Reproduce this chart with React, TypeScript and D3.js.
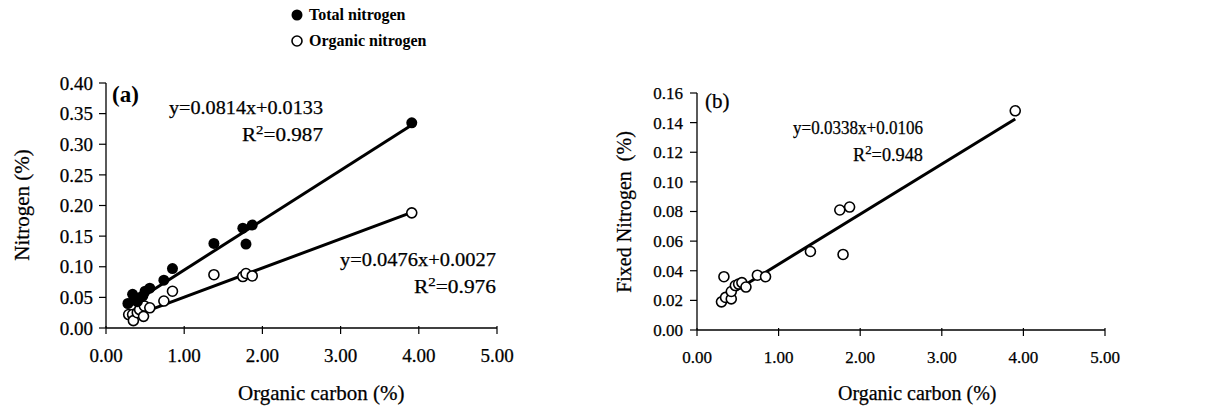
import React from "react";
import * as d3 from "d3";

// panel (a): organic carbon vs total / organic nitrogen (%)
const totalC = [0.28, 0.34, 0.36, 0.4, 0.44, 0.47, 0.5, 0.56, 0.74, 0.85, 1.38, 1.75, 1.79, 1.87, 3.91];
const totalN = [0.04, 0.055, 0.047, 0.043, 0.05, 0.052, 0.06, 0.065, 0.078, 0.097, 0.138, 0.163, 0.137, 0.168, 0.335];
const organicC = [0.29, 0.34, 0.35, 0.4, 0.43, 0.48, 0.49, 0.56, 0.74, 0.85, 1.38, 1.75, 1.79, 1.87, 3.91];
const organicN = [0.022, 0.022, 0.012, 0.025, 0.03, 0.019, 0.036, 0.033, 0.044, 0.06, 0.087, 0.084, 0.089, 0.085, 0.188];

// panel (b): organic carbon vs fixed nitrogen (%)
const fixedC = [0.3, 0.33, 0.35, 0.42, 0.42, 0.47, 0.51, 0.55, 0.6, 0.74, 0.84, 1.39, 1.75, 1.79, 1.87, 3.9];
const fixedN = [0.019, 0.036, 0.022, 0.021, 0.026, 0.03, 0.031, 0.032, 0.029, 0.037, 0.036, 0.053, 0.081, 0.051, 0.083, 0.148];

const xTicks = [0, 1, 2, 3, 4, 5];
const yTicksA = [0, 0.05, 0.1, 0.15, 0.2, 0.25, 0.3, 0.35, 0.4];
const yTicksB = [0, 0.02, 0.04, 0.06, 0.08, 0.1, 0.12, 0.14, 0.16];

const fitTotal = { m: 0.0814, b: 0.0133, eq: "y=0.0814x+0.0133", r2: "0.987" };
const fitOrganic = { m: 0.0476, b: 0.0027, eq: "y=0.0476x+0.0027", r2: "0.976" };
const fitFixed = { m: 0.0338, b: 0.0106, eq: "y=0.0338x+0.0106", r2: "0.948" };

const font = "'Liberation Serif', 'Times New Roman', serif";
const fmt = d3.format(".2f");

type Sc = d3.ScaleLinear<number, number>;

function Axes({ x, y, yTicks, fs, gap }: { x: Sc; y: Sc; yTicks: number[]; fs: number; gap: number }) {
  const [x0, x1] = x.range();
  const [y0, y1] = y.range();
  return (
    <g fontFamily={font} fontSize={fs} fill="#000" stroke="#000" strokeWidth={0.25}>
      <line x1={x0} x2={x0} y1={y0} y2={y1} stroke="#000" strokeWidth={1.3} />
      <line x1={x0} x2={x1} y1={y0} y2={y0} stroke="#000" strokeWidth={1.3} />
      {yTicks.map((t) => (
        <g key={"y" + t}>
          <line x1={x0 - 7} x2={x0} y1={y(t)} y2={y(t)} stroke="#000" strokeWidth={1.2} />
          <text x={x0 - gap} y={y(t)} dy="0.35em" textAnchor="end">
            {fmt(t)}
          </text>
        </g>
      ))}
      {xTicks.map((t) => (
        <g key={"x" + t}>
          <line x1={x(t)} x2={x(t)} y1={y0 - 2} y2={y0 + 6} stroke="#000" strokeWidth={1.2} />
          <text x={x(t)} y={y0 + 27} dy="0.35em" textAnchor="middle">
            {fmt(t)}
          </text>
        </g>
      ))}
    </g>
  );
}

function FitLine({ x, y, xs, fit }: { x: Sc; y: Sc; xs: number[]; fit: { m: number; b: number } }) {
  const [lo, hi] = d3.extent(xs) as [number, number];
  const line = d3
    .line<number>()
    .x((d) => x(d))
    .y((d) => y(fit.m * d + fit.b));
  return <path d={line([lo, hi]) || ""} stroke="#000" strokeWidth={3} fill="none" />;
}

function Equation({ x, y, eq, r2, w1, w2, fs }: { x: number; y: number; eq: string; r2: string; w1: number; w2: number; fs: number }) {
  return (
    <g fontFamily={font} fontSize={fs} textAnchor="end" stroke="#000" strokeWidth={0.25}>
      <text x={x} y={y} textLength={w1} lengthAdjust="spacingAndGlyphs">
        {eq}
      </text>
      <text x={x} y={y + 27} textLength={w2} lengthAdjust="spacingAndGlyphs">
        R<tspan dy={-7} fontSize={fs * 0.7}>2</tspan>
        <tspan dy={7}>={r2}</tspan>
      </text>
    </g>
  );
}

export default function App() {
  const xA = d3.scaleLinear().domain([0, 5]).range([106, 497]);
  const yA = d3.scaleLinear().domain([0, 0.4]).range([328, 83]);
  const xB = d3.scaleLinear().domain([0, 5]).range([697, 1105]);
  const yB = d3.scaleLinear().domain([0, 0.16]).range([330, 93]);

  return (
    <svg width={1217} height={408} style={{ position: "absolute", left: 0, top: 0, background: "#fff" }}>
      <rect width={1217} height={408} fill="#fff" />

      {/* legend */}
      <g fontFamily={font} fontSize={16} fontWeight="bold">
        <circle cx={297} cy={15} r={5.5} fill="#000" />
        <text x={309} y={20}>Total nitrogen</text>
        <circle cx={297} cy={41} r={5} fill="#fff" stroke="#000" strokeWidth={1.6} />
        <text x={309} y={46}>Organic nitrogen</text>
      </g>

      {/* panel (a) */}
      <Axes x={xA} y={yA} yTicks={yTicksA} fs={19} gap={13} />
      <FitLine x={xA} y={yA} xs={totalC} fit={fitTotal} />
      <FitLine x={xA} y={yA} xs={organicC} fit={fitOrganic} />
      {organicC.map((c, i) => (
        <circle key={"o" + i} cx={xA(c)} cy={yA(organicN[i])} r={5} fill="#fff" stroke="#000" strokeWidth={1.6} />
      ))}
      {totalC.map((c, i) => (
        <circle key={"t" + i} cx={xA(c)} cy={yA(totalN[i])} r={5.5} fill="#000" />
      ))}
      <text x={112} y={102} fontFamily={font} fontSize={23} fontWeight="bold">(a)</text>
      <Equation x={323} y={114} eq={fitTotal.eq} r2={fitTotal.r2} w1={154} w2={81} fs={19} />
      <Equation x={496} y={266} eq={fitOrganic.eq} r2={fitOrganic.r2} w1={156} w2={82} fs={19} />
      <text x={22} y={205} transform="rotate(-90 22 205)" dy="0.35em" textAnchor="middle" fontFamily={font} fontSize={21} stroke="#000" strokeWidth={0.25}>
        Nitrogen (%)
      </text>
      <text x={238} y={400} fontFamily={font} fontSize={21} stroke="#000" strokeWidth={0.25}>Organic carbon (%)</text>

      {/* panel (b) */}
      <Axes x={xB} y={yB} yTicks={yTicksB} fs={17} gap={14} />
      <FitLine x={xB} y={yB} xs={fixedC} fit={fitFixed} />
      {fixedC.map((c, i) => (
        <circle key={"f" + i} cx={xB(c)} cy={yB(fixedN[i])} r={5} fill="#fff" stroke="#000" strokeWidth={1.6} />
      ))}
      <text x={705} y={108} fontFamily={font} fontSize={21} stroke="#000" strokeWidth={0.25}>(b)</text>
      <Equation x={923} y={134} eq={fitFixed.eq} r2={fitFixed.r2} w1={130} w2={70} fs={18} />
      <text x={624} y={212} transform="rotate(-90 624 212)" dy="0.35em" textAnchor="middle" fontFamily={font} fontSize={20} xmlSpace="preserve" stroke="#000" strokeWidth={0.25}>
        Fixed Nitrogen  (%)
      </text>
      <text x={838} y={400} fontFamily={font} fontSize={20} stroke="#000" strokeWidth={0.25}>Organic carbon (%)</text>
    </svg>
  );
}
